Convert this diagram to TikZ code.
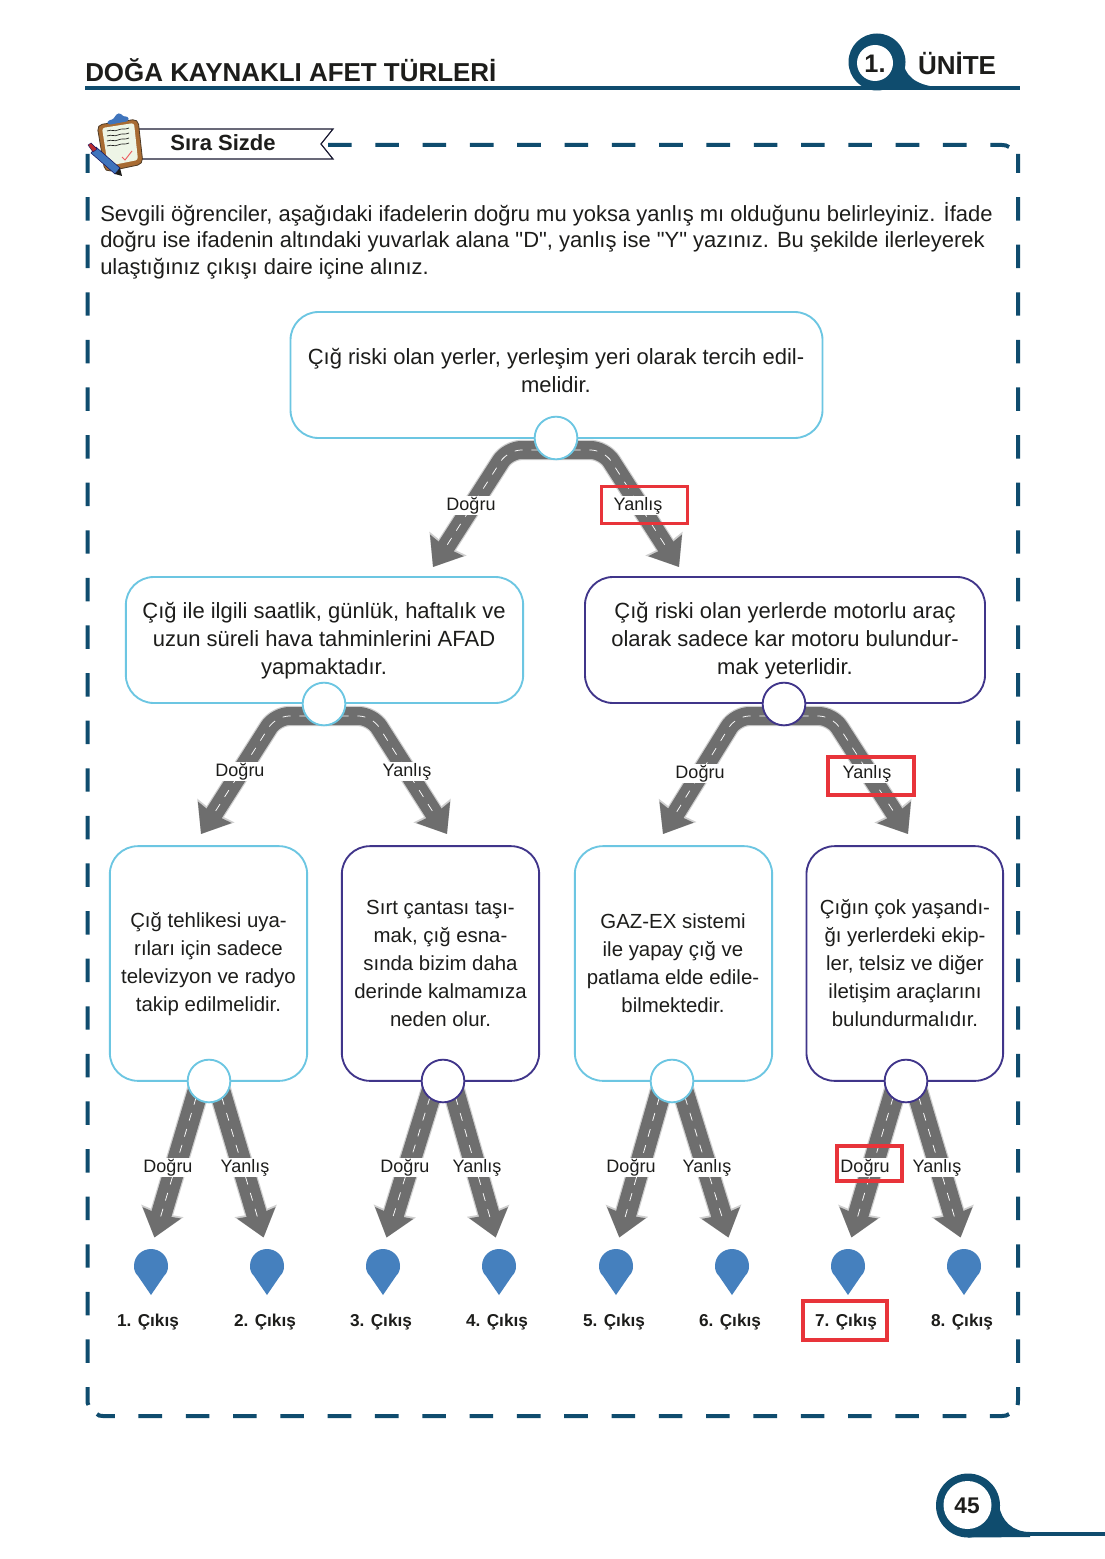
\documentclass[tikz,border=0pt]{standalone}
\usepackage{fontspec}
\setmainfont{Liberation Sans}
\newfontfamily\plainsans{Liberation Sans}
\usetikzlibrary{arrows.meta,backgrounds,calc}
\definecolor{teal}{HTML}{0F4C6E}
\definecolor{skyb}{HTML}{6CC6E2}
\definecolor{purp}{HTML}{40358A}
\definecolor{redb}{HTML}{E8343A}
\definecolor{pinb}{HTML}{4580BE}
\definecolor{roadg}{HTML}{6E6E6E}
\definecolor{roade}{HTML}{CFCFCF}
\definecolor{ink}{HTML}{1D1D1B}
\definecolor{boardb}{HTML}{A86B32}
\definecolor{paperg}{HTML}{EEF5E6}
\definecolor{penb}{HTML}{3F74BC}
\tikzset{
  x=0.75pt,y=-0.75pt,
  txt/.style={text=ink,font=\fontsize{16.5}{21}\selectfont,align=center,inner sep=0pt},
  txtsmall/.style={txt,font=\fontsize{15.3}{21}\selectfont},
  skybox/.style={draw=skyb,line width=1.4pt,rounded corners=21pt,fill=white,inner sep=0pt},
  purbox/.style={draw=purp,line width=1.4pt,rounded corners=21pt,fill=white,inner sep=0pt},
  skyc/.style={circle,draw=skyb,line width=1.4pt,fill=white,minimum size=32pt,inner sep=0pt},
  purc/.style={circle,draw=purp,line width=1.4pt,fill=white,minimum size=32pt,inner sep=0pt},
  choice/.style={text=ink,font=\fontsize{13.5}{16}\selectfont,fill=white,inner sep=1pt},
  exitlab/.style={text=ink,font=\bfseries\fontsize{12.9}{16}\selectfont,inner sep=0pt},
  redbox/.style={draw=redb,line width=2.6pt,inner sep=0pt},
  frameline/.style={teal,line width=3pt},
  roadedge/.style={roade,line join=round,rounded corners=10pt,-{Stealth[length=20.5pt,width=32pt,inset=1.5pt]}},
  roadbody/.style={roadg,line join=round,rounded corners=10pt,-{Stealth[length=19pt,width=29pt,inset=1.5pt]}},
  roaddash/.style={white,line width=0.55pt,rounded corners=10pt,dash pattern=on 6pt off 6.5pt},
  pinmark/.pic={\fill[pinb] (0,46) -- (-13,27) .. controls (-16,24) and (-17,21) .. (-17,17) .. controls (-17,7) and (-9,0) .. (0,0) .. controls (9,0) and (17,7) .. (17,17) .. controls (17,21) and (16,24) .. (13,27) -- cycle;},
}
\newcommand\roadway[3]{%
  \draw[roadedge,line width=#1+1.8pt,shorten >=#2] #3;
  \draw[roadbody,line width=#1,shorten >=#2] #3;
  \draw[roaddash,shorten >=#2+15pt] #3;}
\begin{document}
\begin{tikzpicture}
\useasboundingbox (0,0) rectangle (1105,1559);

% header
\node[anchor=west,text=ink,font=\bfseries\fontsize{19.45}{22}\selectfont,inner sep=0pt] (title) at (85,70.5) {DOĞA KAYNAKLI AFET TÜRLERİ};
\draw[teal,line width=3pt] (85,88) -- (1020,88);
\fill[teal] (877,62) circle[radius=28.5];
\fill[teal] (903,60) .. controls (904,75) and (915,85) .. (937,87) -- (937,89.5) -- (877,89.5) -- cycle;
\fill[white] (875,63) circle[radius=18];
\node[font=\bfseries\fontsize{19}{22}\selectfont,text=ink,inner sep=0pt] (unitno) at (875,64) {1.};
\node[font=\bfseries\fontsize{19.5}{22}\selectfont,text=ink,inner sep=0pt] (unite) at (957,63) {ÜNİTE};

% frame
\draw[frameline,dash pattern=on 17.7pt off 17.78pt] (328,145) -- (1002,145) .. controls (1005,145) and (1007,145.5) .. (1009,147);
\draw[frameline,dash pattern=on 17.6pt off 18.1pt,dash phase=3.4pt] (1018,154) -- (1018,1400) .. controls (1018,1402) and (1018,1404) .. (1017.5,1405);
\draw[frameline,dash pattern=on 17.6pt off 18.1pt,dash phase=3.4pt] (87.5,154) -- (87.5,1400) .. controls (87.5,1402) and (87.5,1404) .. (88.5,1405);
\draw[frameline,dash pattern=on 17.7pt off 17.78pt,dash phase=4pt] (97,1414) .. controls (98,1415.5) and (100,1416) .. (103,1416) -- (1002,1416) .. controls (1005,1416) and (1007,1415.5) .. (1009,1414);

% banner
\draw[draw=ink!90!blue,line width=0.9pt,fill=white] (135,129) -- (333,129) -- (321,144) -- (333,159) -- (135,159) -- cycle;
\node[exitlab,font=\bfseries\fontsize{16.5}{20}\selectfont] (sira) at (223,143) {Sıra Sizde};

% clipboard icon
\draw[draw=ink!70!brown,fill=boardb,line width=0.6pt,rounded corners=4pt] (97,125) -- (138,119) -- (143,164) -- (105,172) -- cycle;
\fill[paperg,rounded corners=2pt] (102,128) -- (134,123) -- (138,160) -- (108,166) -- cycle;
\fill[penb,rounded corners=2pt] (107,121) -- (114,119) -- (116,114) -- (121,113) -- (123,117) -- (128,116) -- (129,121) -- (108,125) -- cycle;
\foreach \yy in {131,136,141,146}
  \draw[ink,line width=0.5pt] (107,\yy) .. controls (112,\yy-2) and (114,\yy+1) .. (118,\yy-1) .. controls (122,\yy-3) and (125,\yy-1) .. (129,\yy-3);
\draw[redb!80!white,line width=0.7pt] (122,157) -- (125,160) -- (132,151);
\draw[draw=ink!70!blue,fill=penb,line width=0.4pt] (96,147) -- (120,168) -- (115,174) -- (91,153) -- cycle;
\draw[draw=ink!70!blue,fill=redb!80!black,line width=0.3pt] (88,145) -- (91,143) -- (97,149) -- (93,152) -- cycle;
\fill[ink] (115,174) -- (122,176) -- (120,168) -- cycle;

% intro
\node[anchor=west,txt,align=left,font=\plainsans\fontsize{16.48}{19.9}\selectfont] (intro) at (100,240.5) {Sevgili öğrenciler, aşağıdaki ifadelerin doğru mu yoksa yanlış mı olduğunu belirleyiniz. İfade\\doğru ise ifadenin altındaki yuvarlak alana "D", yanlış ise "Y" yazınız. Bu şekilde ilerleyerek\\ulaştığınız çıkışı daire içine alınız.};

% boxes
\node[skybox,minimum width=399pt,minimum height=94.5pt] (q1) at (556.5,375) {};
\node[skybox,minimum width=298pt,minimum height=94.5pt] (q2) at (324.5,640) {};
\node[purbox,minimum width=300pt,minimum height=94.5pt] (q3) at (785,640) {};
\node[skybox,minimum width=148pt,minimum height=176pt] (q4) at (208.5,963.5) {};
\node[purbox,minimum width=148pt,minimum height=176pt] (q5) at (440.5,963.5) {};
\node[skybox,minimum width=148pt,minimum height=176pt] (q6) at (673.5,963.5) {};
\node[purbox,minimum width=147.5pt,minimum height=176pt] (q7) at (904.8,963.5) {};

\node[txt] (t1) at (556,370) {Çığ riski olan yerler, yerleşim yeri olarak tercih edil-\\melidir.};
\node[txt] (t2) at (324,640.5) {Çığ ile ilgili saatlik, günlük, haftalık ve\\uzun süreli hava tahminlerini AFAD\\yapmaktadır.};
\node[txt] (t3) at (785,640.5) {Çığ riski olan yerlerde motorlu araç\\olarak sadece kar motoru bulundur-\\mak yeterlidir.};
\node[txtsmall] (t4) at (208.5,964.5) {Çığ tehlikesi uya-\\rıları için sadece\\televizyon ve radyo\\takip edilmelidir.};
\node[txtsmall] (t5) at (440.5,963) {Sırt çantası taşı-\\mak, çığ esna-\\sında bizim daha\\derinde kalmamıza\\neden olur.};
\node[txtsmall] (t6) at (673,963.5) {GAZ-EX sistemi\\ile yapay çığ ve\\patlama elde edile-\\bilmektedir.};
\node[txtsmall] (t7) at (905,963) {Çığın çok yaşandı-\\ğı yerlerdeki ekip-\\ler, telsiz ve diğer\\iletişim araçlarını\\bulundurmalıdır.};

% answer circles
\node[skyc] (c1) at (556,438) {};
\node[skyc] (c2) at (324,704) {};
\node[purc] (c3) at (784,704) {};
\node[skyc] (c4) at (209,1081) {};
\node[purc] (c5) at (443,1081) {};
\node[skyc] (c6) at (672,1081) {};
\node[purc] (c7) at (906,1081) {};

% free ends of the upper roads
\coordinate (e1l) at (433,567);
\coordinate (e1r) at (679,567);
\coordinate (e2l) at (201,834);
\coordinate (e2r) at (447,834);
\coordinate (e3l) at (663,834);
\coordinate (e3r) at (908,834);

% exit pins
\foreach \nn/\xx in {1/151,2/267,3/383,4/499,5/616,6/732,7/848,8/964}{
  \coordinate (p\nn) at (\xx,1249);
  \pic at (p\nn) {pinmark};
}

% roads
\begin{scope}[on background layer]
\fill[white] (0,0) rectangle (1105,1559);
\roadway{13.5pt}{0pt}{([shift={(0,12)}]c1.center) -- (508,450) -- (e1l)}
\roadway{13.5pt}{0pt}{([shift={(0,12)}]c1.center) -- (604,450) -- (e1r)}
\roadway{13.5pt}{0pt}{([shift={(0,12)}]c2.center) -- (276,716) -- (e2l)}
\roadway{13.5pt}{0pt}{([shift={(0,12)}]c2.center) -- (372,716) -- (e2r)}
\roadway{13.5pt}{0pt}{([shift={(0,12)}]c3.center) -- (736,716) -- (e3l)}
\roadway{13.5pt}{0pt}{([shift={(0,12)}]c3.center) -- (832,716) -- (e3r)}
\foreach \cc/\pa/\pb in {c4/p1/p2,c5/p3/p4,c6/p5/p6,c7/p7/p8}{
  \roadway{15.5pt}{9pt}{([shift={(-8,0)}]\cc.center) -- (\pa)}
  \roadway{15.5pt}{9pt}{([shift={(8,0)}]\cc.center) -- (\pb)}
}
\end{scope}

% choice labels
\node[choice] (l1) at (471,505.5) {Doğru};
\node[choice] (l2) at (638,505.5) {Yanlış};
\node[choice] (l3) at (240,771.5) {Doğru};
\node[choice] (l4) at (407,771.5) {Yanlış};
\node[choice] (l5) at (700,773.5) {Doğru};
\node[choice] (l6) at (867,773.5) {Yanlış};
\foreach \nn/\da/\ya in {a/168/245,b/405/477,c/631/707,d/865/937}{
  \node[choice] (d\nn) at (\da,1167.5) {Doğru};
  \node[choice] (y\nn) at (\ya,1167.5) {Yanlış};
}

% marked answers
\node[redbox,minimum width=64.5pt,minimum height=27.5pt] (r1) at (644.5,505) {};
\node[redbox,minimum width=64.5pt,minimum height=28.5pt] (r2) at (871,776) {};
\node[redbox,minimum width=48.5pt,minimum height=26.5pt] (r3) at (869.5,1163.5) {};
\node[redbox,minimum width=63pt,minimum height=29pt] (r4) at (845,1320.5) {};

% exit labels
\foreach \nn/\xx in {1/148,2/265,3/381,4/497,5/614,6/730,7/846,8/962}{
  \node[exitlab] (x\nn) at (\xx,1322.5) {\nn. Çıkış};
}

% footer
\fill[teal] (968,1505.5) circle[radius=32];
\fill[teal] (999,1505) .. controls (1001,1520) and (1012,1532) .. (1030,1532) -- (1030,1537) -- (968,1537.5) -- cycle;
\draw[teal,line width=3.6pt] (1020,1534) -- (1105,1534);
\fill[white] (967.5,1505) circle[radius=24];
\node[exitlab,font=\bfseries\fontsize{17}{20}\selectfont] (page) at (967,1506) {45};
\end{tikzpicture}
\end{document}
